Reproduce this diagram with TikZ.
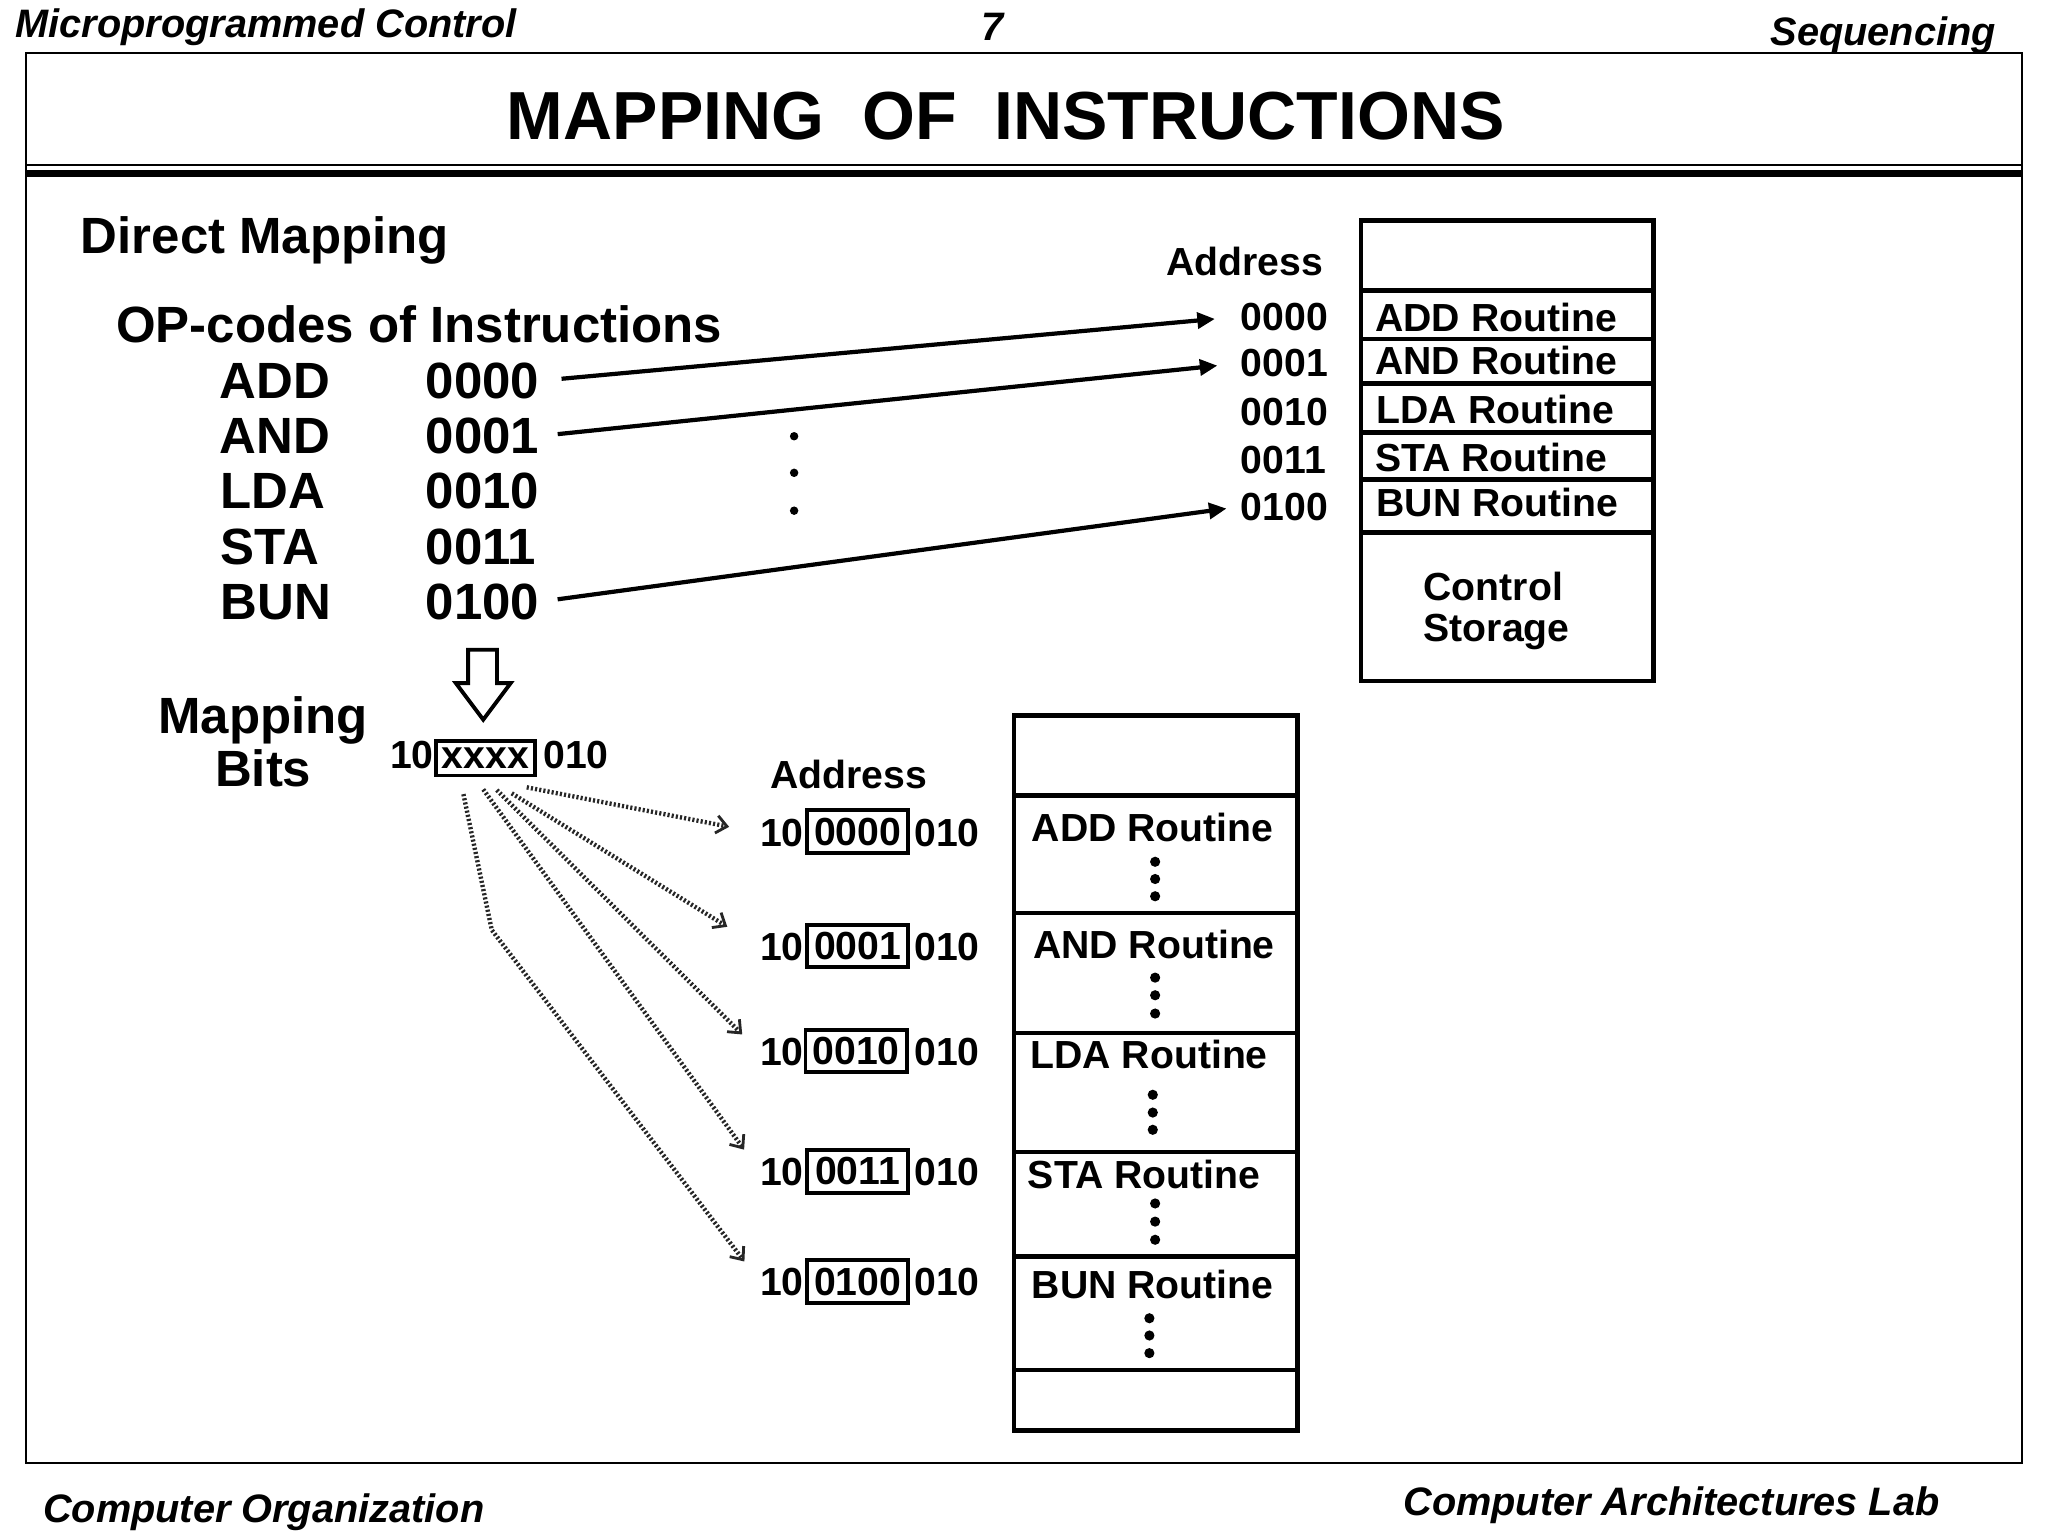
\documentclass[tikz,border=0pt]{standalone}
\usepackage{fontspec}
\setmainfont{Liberation Sans}
\usetikzlibrary{arrows.meta}
\newcommand\FBig{\fontsize{14.5pt}{17pt}\selectfont\bfseries}
\newcommand\FSm{\fontsize{11.15pt}{13pt}\selectfont\bfseries}
\newcommand\FTitle{\fontsize{19.35pt}{23pt}\selectfont\bfseries}
\newcommand\FHead{\fontsize{11.3pt}{13pt}\selectfont\bfseries\itshape}
\begin{document}
\begin{tikzpicture}[x=0.013061cm,y=-0.013061cm,
  txt/.style={inner sep=0pt,outer sep=0pt},
  big/.style={txt,font=\FBig},
  sm/.style={txt,font=\FSm},
  hd/.style={txt,font=\FHead},
  arr/.style={line width=1.2pt,-{Triangle[length=5pt,width=4.5pt]}},
  fan/.style={line width=1.25pt,black!85,dash pattern=on 0.6pt off 0.6pt,-{Straight Barb[length=3pt,width=5pt,line width=0.8pt]}},
  bx/.style={draw,line width=1.1pt,inner sep=0pt,outer sep=0pt,minimum width=28.8pt,minimum height=12.1pt,font=\FSm},
  mem/.style={line width=1.3pt},
  dotf/.style={fill=black}]

\useasboundingbox (0,0) rectangle (1568,1176);
\fill[white] (0,0) rectangle (1568,1176);

% header and footer
\node[hd,anchor=base west] (h1) at (12,28.6) {Microprogrammed Control};
\node[hd,anchor=base] (h2) at (760,31) {7};
\node[hd,anchor=base east] (h3) at (1528,34.5) {Sequencing};
\node[hd,anchor=base west] (f1t) at (33,1166) {Computer Organization};
\node[hd,anchor=base east] (f2t) at (1485,1160) {Computer Architectures Lab};

% frame and rules
\draw[line width=0.7pt] (19.9,40.6) rectangle (1548.2,1120.2);
\draw[line width=0.5pt] (19.9,126.6) -- (1548.2,126.6);
\draw[line width=1.9pt] (19.9,132.7) -- (1548.2,132.7);

% title
\node[txt,font=\FTitle,anchor=base] (title) at (770,106.7) {MAPPING\hspace{0.556em}OF\hspace{0.556em}INSTRUCTIONS};

% left text
\node[big,anchor=base west] (dm) at (62,194) {Direct Mapping};
\node[big,anchor=base west] (op) at (89,262) {OP-codes of Instructions};
\node[big,anchor=base west] (m0) at (168,305) {ADD};
\node[big,anchor=base west] (m1) at (168,347.3) {AND};
\node[big,anchor=base west] (m2) at (169,389.6) {LDA};
\node[big,anchor=base west] (m3) at (169,431.9) {STA};
\node[big,anchor=base west] (m4) at (169,474.2) {BUN};
\node[big,anchor=base west] (c0) at (326,305) {0000};
\node[big,anchor=base west] (c1) at (326,347.3) {0001};
\node[big,anchor=base west] (c2) at (326,389.6) {0010};
\node[big,anchor=base west] (c3) at (326,431.9) {0011};
\node[big,anchor=base west] (c4) at (326,474.2) {0100};

% top addresses
\node[sm,anchor=base east] (ad1) at (1013,210.6) {Address};
\node[sm,anchor=base west] (a0) at (950,252.7) {0000};
\node[sm,anchor=base west] (a1) at (950,288.4) {0001};
\node[sm,anchor=base west] (a2) at (950,325.4) {0010};
\node[sm,anchor=base west] (a3) at (950,362.4) {0011};
\node[sm,anchor=base west] (a4) at (950,398.2) {0100};

% arrows
\draw[arr,shorten <=6.4pt,shorten >=7.4pt] (c0.east) -- (a0.west);
\draw[arr,shorten <=5.3pt,shorten >=6.7pt] (c1.east) -- (a1.west);
\draw[arr,shorten <=5.3pt,shorten >=4.1pt] (c4.east) -- (a4.west);

% middle dots
\fill (608,334) circle (1.2pt);
\fill (608,362) circle (1.2pt);
\fill (608,391) circle (1.2pt);

% control storage
\draw[mem] (1042,169) rectangle (1266,521.4);
\foreach \yy in {222.6,259.6,293.5,331,367,407.6}
  \draw[mem] (1042,\yy) -- (1266,\yy);
\node[sm,anchor=base west] (t0) at (1053,254) {ADD Routine};
\node[sm,anchor=base west] (t1) at (1053,287.1) {AND Routine};
\node[sm,anchor=base west] (t2) at (1054,324.1) {LDA Routine};
\node[sm,anchor=base west] (t3) at (1053,361.2) {STA Routine};
\node[sm,anchor=base west] (t4) at (1054,395.6) {BUN Routine};
\node[sm,anchor=base west] (cs1) at (1090,459.4) {Control};
\node[sm,anchor=base west] (cs2) at (1090,491) {Storage};

% hollow down arrow
\draw[line width=1.1pt,line join=miter] (358.4,497.5) -- (380.5,497.5) -- (380.5,523) -- (391,523) -- (370,551) -- (349,523) -- (358.4,523) -- cycle;

% mapping bits
\node[big,anchor=base] (mp1) at (201.5,561.5) {Mapping};
\node[big,anchor=base] (mp2) at (201.5,602.4) {Bits};
\node[sm,anchor=base west] (x10) at (298.6,588.3) {10};
\node[bx,minimum width=28.1pt,minimum height=9.74pt] (xb) at (371.6,580.6) {xxxx};
\node[sm,anchor=base west] (x010) at (416,588.3) {010};

% bottom addresses
\node[sm,anchor=base west] (ad2) at (589.6,603.8) {Address};
\node[sm,anchor=base west] (r1) at (582,648) {10};
\node[bx] (b1) at (656.6,636.7) {0000};
\node[sm,anchor=base west] (s1) at (700,648) {010};
\node[sm,anchor=base west] (r2) at (582,735.5) {10};
\node[bx] (b2) at (656.6,724.2) {0001};
\node[sm,anchor=base west] (s2) at (700,735.5) {010};
\node[sm,anchor=base west] (r3) at (582,816) {10};
\node[bx] (b3) at (655.5,804.6) {0010};
\node[sm,anchor=base west] (s3) at (700,816) {010};
\node[sm,anchor=base west] (r4) at (582,907.5) {10};
\node[bx] (b4) at (656.6,896.9) {0011};
\node[sm,anchor=base west] (s4) at (700,907.5) {010};
\node[sm,anchor=base west] (r5) at (582,992) {10};
\node[bx] (b5) at (656.6,981.2) {0100};
\node[sm,anchor=base west] (s5) at (700,992) {010};

% fan lines
\coordinate (g1) at (403.3,602.8);
\coordinate (g2) at (391.8,607.4);
\coordinate (g3) at (380.3,604.9);
\coordinate (g4) at (370,604.4);
\coordinate (g5) at (354.8,608);
\coordinate (k5) at (376.5,712);
\draw[fan,shorten >=9pt] (g1) -- (r1.west);
\draw[fan,shorten >=11pt] (g2) -- (r2.west);
\draw[fan,shorten >=7.2pt] (g3) -- (r3.west);
\draw[fan,shorten >=7.8pt] (g4) -- (r4.west);
\draw[fan,shorten >=7.4pt] (g5) -- (k5) -- (r5.west);

% microprogram memory
\draw[mem] (776.2,547.8) rectangle (993.2,1095.2);
\foreach \yy in {609,699,791,882,962,1049}
  \draw[mem] (776.2,\yy) -- (993.2,\yy);
\node[sm,anchor=base west] (u0) at (790,644) {ADD Routine};
\node[sm,anchor=base west] (u1) at (791,733.8) {AND Routine};
\node[sm,anchor=base west] (u2) at (789,818.1) {LDA Routine};
\node[sm,anchor=base west] (u3) at (787,909.6) {STA Routine};
\node[sm,anchor=base west] (u4) at (790,993.9) {BUN Routine};
\foreach \xx/\ya/\yb/\yc in {884.4/659.8/673/686.2, 884.4/748.5/762/776, 882.6/838.2/851.8/865, 884.4/921.4/935.3/949.2, 880/1009.3/1022.5/1036}{
  \fill (\xx,\ya) circle (1.45pt);
  \fill (\xx,\yb) circle (1.45pt);
  \fill (\xx,\yc) circle (1.45pt);
}
\end{tikzpicture}
\end{document}
